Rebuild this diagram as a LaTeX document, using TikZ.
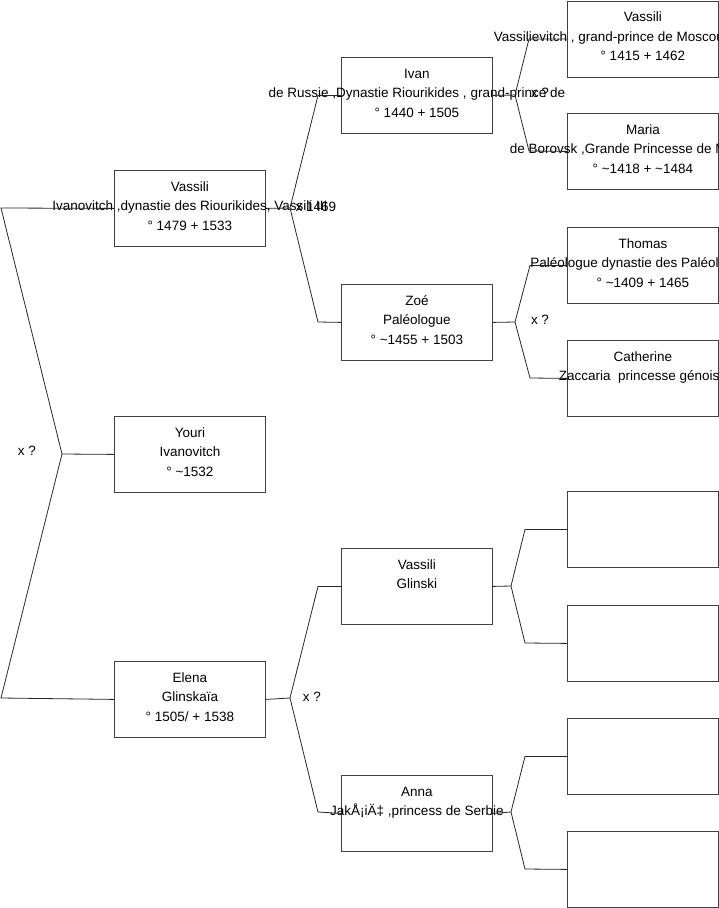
\documentclass[tikz,border=0pt]{standalone}
\usepackage{fontspec}
\setmainfont{Liberation Sans}
\newcommand{\ov}[1]{\makebox[0pt]{#1}}
\newcommand{\ovl}[2]{\makebox[0pt][l]{\hspace*{#1}#2}}
\begin{document}
\begin{tikzpicture}[x=1pt,y=-1pt,
  pbox/.style={draw=black!75, line width=0.8pt, minimum width=151pt, minimum height=76pt,
    inner sep=0pt, align=center, anchor=north west, text depth=5pt, font=\fontsize{13.5}{19.5}\selectfont},
  conn/.style={draw=black!85, line width=0.8pt},
  lbl/.style={font=\fontsize{13.5}{16}\selectfont, inner sep=0pt}]
\useasboundingbox (0,0) rectangle (719,908);
% column 1
\node[pbox] (v1) at (114,170) {Vassili\\\ov{Ivanovitch ,dynastie des Riourikides, Vassili III}\\° 1479 + 1533};
\node[pbox] (yo) at (114,416) {Youri\\Ivanovitch\\° \textasciitilde1532};
\node[pbox] (el) at (114,661) {Elena\\Glinskaïa\\° 1505/ + 1538};
% column 2
\node[pbox] (iv) at (341,57) {Ivan\\\ov{de Russie ,Dynastie Riourikides , grand-prince de}\\° 1440 + 1505};
\node[pbox] (zo) at (341,284) {Zoé\\Paléologue\\° \textasciitilde1455 + 1503};
\node[pbox] (vg) at (341,548) {Vassili\\Glinski\\\vphantom{0}};
\node[pbox] (an) at (341,775) {Anna\\\ov{JakÅ¡iÄ‡ ,princess de Serbie}\\\vphantom{0}};
% column 3
\node[pbox] (va3) at (567,0.5) {Vassili\\\ovl{-149pt}{Vassilievitch , grand-prince de Moscou}\\° 1415 + 1462};
\node[pbox] (ma) at (567,113) {Maria\\\ovl{-133pt}{de Borovsk ,Grande Princesse de Moscou}\\° \textasciitilde1418 + \textasciitilde1484};
\node[pbox] (th) at (567,227) {Thomas\\\ov{Paléologue dynastie des Paléologues}\\° \textasciitilde1409 + 1465};
\node[pbox] (ca) at (567,340) {Catherine\\\ov{Zaccaria\ \ princesse génoise}\\\vphantom{0}};
\node[pbox] (e1) at (567,491) {};
\node[pbox] (e2) at (567,605) {};
\node[pbox] (e3) at (567,718) {};
\node[pbox] (e4) at (567,831) {};
% root fork
\coordinate (r) at (62,454);
\draw[conn] (v1.west) -- (1,208) -- (r) -- (1,698) -- (el.west);
\draw[conn] (r) -- (yo.west);
\node[lbl] (lr) at (27,451) {x ?};
% Vassili fork
\coordinate (f1) at (290,208);
\draw[conn] (v1.east) -- (f1);
\draw[conn] (iv.west) -- ++(-23,0) -- (f1) -- (318,322) -- (zo.west);
\node[lbl] (l1) at (316,207) {x 1469};
% Ivan fork
\coordinate (f2) at (515,95);
\draw[conn] (iv.east) -- (f2);
\draw[conn] (va3.west) -- ++(-38,0) -- (f2) -- (529,151) -- (ma.west);
\node[lbl] (l2) at (540,93) {x ?};
% Zoe fork
\coordinate (f3) at (515,322);
\draw[conn] (zo.east) -- (f3);
\draw[conn] (th.west) -- ++(-37,0) -- (f3) -- (530,378) -- (ca.west);
\node[lbl] (l3) at (540,320) {x ?};
% Elena fork
\coordinate (f4) at (290,698);
\draw[conn] (el.east) -- (f4);
\draw[conn] (vg.west) -- ++(-23,0) -- (f4) -- (318,812) -- (an.west);
\node[lbl] (l4) at (312,697) {x ?};
% Vassili Glinski fork
\coordinate (f5) at (511,586);
\draw[conn] (vg.east) -- (f5);
\draw[conn] (e1.west) -- ++(-42,0) -- (f5) -- (525,643) -- (e2.west);
% Anna fork
\coordinate (f6) at (511,812);
\draw[conn] (an.east) -- (f6);
\draw[conn] (e3.west) -- ++(-42,0) -- (f6) -- (525,869) -- (e4.west);
\end{tikzpicture}
\end{document}
